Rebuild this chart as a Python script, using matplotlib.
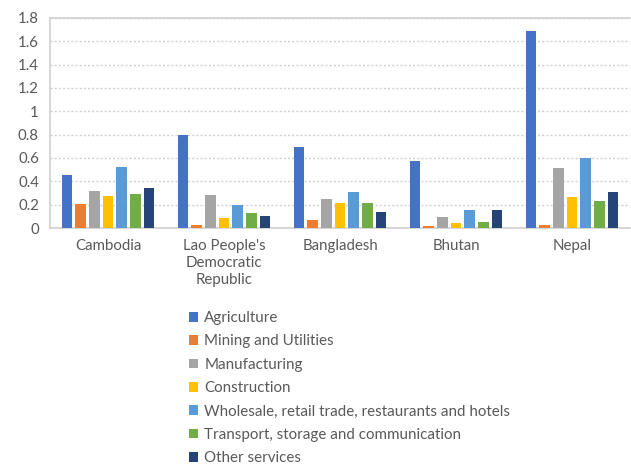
import numpy as np
import matplotlib
matplotlib.use("Agg")
import matplotlib.pyplot as plt

countries = ["Cambodia", "Lao People's\nDemocratic\nRepublic", "Bangladesh", "Bhutan", "Nepal"]
sectors = ["Agriculture", "Mining and Utilities", "Manufacturing", "Construction",
           "Wholesale, retail trade, restaurants and hotels",
           "Transport, storage and communication", "Other services"]

agriculture = [0.45, 0.80, 0.695, 0.575, 1.685]
mining = [0.205, 0.022, 0.07, 0.017, 0.026]
manufacturing = [0.315, 0.286, 0.25, 0.091, 0.515]
construction = [0.277, 0.082, 0.211, 0.045, 0.268]
wholesale = [0.523, 0.197, 0.309, 0.157, 0.603]
transport = [0.294, 0.129, 0.211, 0.054, 0.234]
other = [0.343, 0.105, 0.137, 0.157, 0.309]

series = [agriculture, mining, manufacturing, construction, wholesale, transport, other]
colors = ["#4472C4", "#ED7D31", "#A5A5A5", "#FFC000", "#5B9BD5", "#70AD47", "#264478"]

plt.rcParams['font.family'] = ['Lato', 'DejaVu Sans']
txt = "#595959"

fig = plt.figure(figsize=(6.31, 4.65), dpi=100)
ax = fig.add_axes([50/631, 1 - 228/465, 580/631, 210/465])

x = np.arange(len(countries))
slot = 0.118
width = 0.092
for i, (vals, c) in enumerate(zip(series, colors)):
    ax.bar(x + (i - 3) * slot, vals, width, color=c, label=sectors[i], zorder=3)

ax.set_xlim(-0.5, len(countries) - 0.5)
ax.set_ylim(0, 1.8)
ticks = np.arange(0, 1.81, 0.2)
ax.set_yticks(ticks)
ax.set_yticklabels([("%g" % round(t, 1)) for t in ticks])
ax.set_xticks(x)
ax.set_xticklabels(countries, linespacing=1.25)
ax.tick_params(axis='both', length=0, colors=txt, labelsize=10.8)
ax.tick_params(axis='y', pad=8)
ax.tick_params(axis='x', pad=8)
ax.yaxis.grid(True, linestyle=(0, (1.5, 1.5)), color="#D0D0D0", linewidth=1, zorder=0)
for s in ["left", "top"]:
    ax.spines[s].set_color("#D0D0D0")
    ax.spines[s].set_linewidth(1.2)
ax.spines["right"].set_visible(False)
ax.spines["bottom"].set_color("#D0D0D0")
ax.spines["bottom"].set_linewidth(1.2)

leg = fig.legend(loc="upper left", bbox_to_anchor=(183/631, 1 - 305/465), frameon=False,
                 handlelength=0.6, handleheight=0.6, handletextpad=0.4,
                 labelspacing=0.62, fontsize=10.9, labelcolor=txt, borderaxespad=0)

fig.savefig("out.png", dpi=100)
